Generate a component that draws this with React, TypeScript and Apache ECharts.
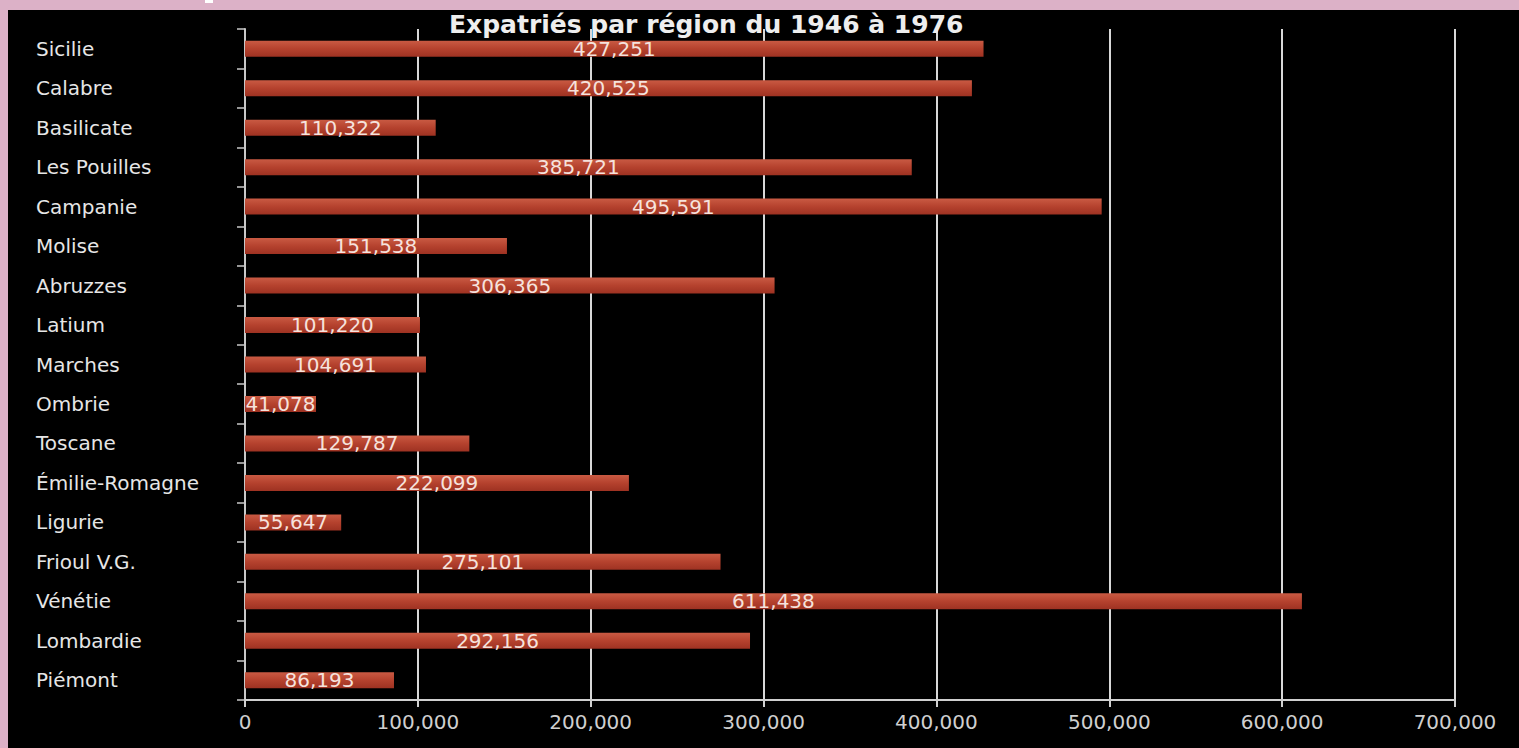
import React, { useEffect, useRef } from "react";
import * as echarts from "echarts";

const titleText = "Expatriés par région du 1946 à 1976";
const regions = [
  "Sicilie",
  "Calabre",
  "Basilicate",
  "Les Pouilles",
  "Campanie",
  "Molise",
  "Abruzzes",
  "Latium",
  "Marches",
  "Ombrie",
  "Toscane",
  "Émilie-Romagne",
  "Ligurie",
  "Frioul V.G.",
  "Vénétie",
  "Lombardie",
  "Piémont",
];
const expatries = [
  427251, 420525, 110322, 385721, 495591, 151538, 306365, 101220, 104691,
  41078, 129787, 222099, 55647, 275101, 611438, 292156, 86193,
];
const xMin = 0;
const xMax = 700000;
const xInterval = 100000;

const fmt = (v: number) => Number(v).toLocaleString("en-US");
const FONT = "DejaVu Sans";

export default function App() {
  const ref = useRef<HTMLDivElement>(null);
  useEffect(() => {
    if (!ref.current) return;
    const chart = echarts.init(ref.current, undefined, { renderer: "svg" });
    chart.setOption({
      animation: false,
      backgroundColor: "#000000",
      title: {
        text: titleText,
        left: 441,
        top: 1,
        padding: 0,
        textStyle: {
          color: "#eeeeee",
          fontFamily: FONT,
          fontSize: 25,
          fontWeight: "bold",
          lineHeight: 26,
        },
      },
      grid: { left: 237, right: 64, top: 19, bottom: 48, containLabel: false },
      xAxis: {
        type: "value",
        min: xMin,
        max: xMax,
        interval: xInterval,
        axisLine: { show: true, lineStyle: { color: "#d0d0d0", width: 2 } },
        axisTick: { show: true, length: 7, lineStyle: { color: "#d0d0d0", width: 2 } },
        splitLine: { show: true, lineStyle: { color: "#d8d8d8", width: 2 } },
        axisLabel: {
          color: "#cfcfcf",
          fontFamily: FONT,
          fontSize: 20,
          margin: 12,
          formatter: (v: number) => fmt(v),
        },
      },
      yAxis: {
        type: "category",
        data: regions,
        inverse: true,
        axisLine: { show: true, lineStyle: { color: "#c8c8c8", width: 2 } },
        axisTick: { show: true, length: 8, lineStyle: { color: "#c8c8c8", width: 1.5 } },
        splitLine: { show: false },
        axisLabel: {
          color: "#e6e6e6",
          fontFamily: FONT,
          fontSize: 20,
          align: "left",
          margin: 209,
        },
      },
      series: [
        {
          type: "bar",
          data: expatries,
          barWidth: 16,
          itemStyle: {
            color: new echarts.graphic.LinearGradient(0, 0, 0, 1, [
              { offset: 0, color: "#c95a43" },
              { offset: 0.5, color: "#b5422e" },
              { offset: 1, color: "#9e3222" },
            ]),
          },
          label: {
            show: true,
            position: "inside",
            color: "#f6e2dc",
            fontFamily: FONT,
            fontSize: 20,
            lineHeight: 20,
            formatter: (p: any) => fmt(p.value),
          },
        },
      ],
    });
    return () => chart.dispose();
  }, []);
  return (
    <div
      style={{
        position: "fixed",
        left: 0,
        top: 0,
        width: 1519,
        height: 748,
        background: "#dcb1c7",
        overflow: "hidden",
      }}
    >
      <div
        style={{
          position: "absolute",
          left: 205,
          top: 0,
          width: 8,
          height: 3,
          background: "#ffffff",
        }}
      />
      <div
        ref={ref}
        style={{ position: "absolute", left: 8, top: 10, width: 1511, height: 738 }}
      />
    </div>
  );
}
